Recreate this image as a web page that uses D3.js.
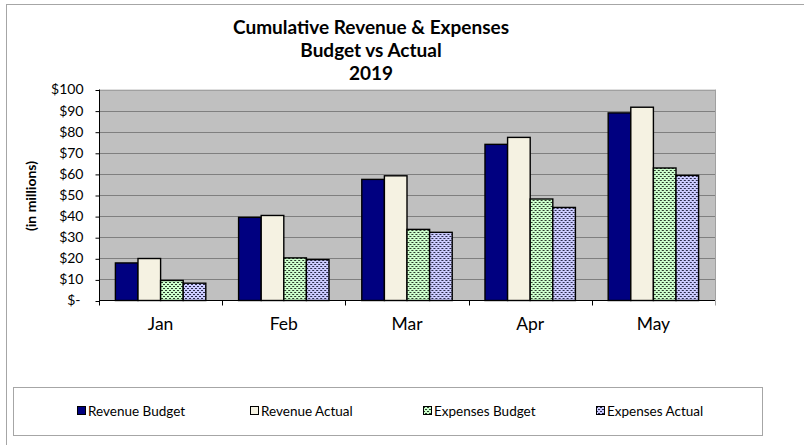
<!DOCTYPE html>
<html><head><meta charset="utf-8">
<script src="https://cdn.jsdelivr.net/npm/d3@7"></script>
<style>
html,body{margin:0;padding:0;background:#fff;}
svg{display:block;font-family:Lato,"Open Sans",sans-serif;}
</style></head>
<body>
<svg id="chart" width="804" height="445"></svg>
<script>
const titleLines = ["Cumulative Revenue & Expenses", "Budget vs Actual", "2019"];
const yAxisTitle = "(in millions)";
const months = ["Jan", "Feb", "Mar", "Apr", "May"];
const seriesNames = ["Revenue Budget", "Revenue Actual", "Expenses Budget", "Expenses Actual"];
const revenueBudget = [17.8, 39.4, 57.4, 74.0, 88.9];
const revenueActual = [19.9, 40.3, 59.1, 77.3, 91.6];
const expensesBudget = [9.5, 20.2, 33.7, 48.1, 62.8];
const expensesActual = [8.2, 19.4, 32.3, 44.1, 59.3];
const yTicks = [0, 10, 20, 30, 40, 50, 60, 70, 80, 90, 100];

const seriesValues = [revenueBudget, revenueActual, expensesBudget, expensesActual];
const fills = ["#000080", "#f5f2e2", "url(#patGreen)", "url(#patBlue)"];

const svg = d3.select("#chart");
const defs = svg.append("defs");
function makePattern(id, bg, fg) {
  const p = defs.append("pattern").attr("id", id).attr("patternUnits", "userSpaceOnUse")
    .attr("width", 4).attr("height", 4);
  p.append("rect").attr("width", 4).attr("height", 4).attr("fill", bg);
  p.append("rect").attr("x", 0).attr("y", 0).attr("width", 2).attr("height", 1).attr("fill", fg);
  p.append("rect").attr("x", 2).attr("y", 2).attr("width", 2).attr("height", 1).attr("fill", fg);
}
makePattern("patGreen", "#ccffcc", "#2a3a2a");
makePattern("patBlue", "#ccccff", "#2a2a4a");

// outer frame
svg.append("rect").attr("x", 6.5).attr("y", 4.5).attr("width", 820).attr("height", 460)
  .attr("fill", "none").attr("stroke", "#a6a6a6").attr("stroke-width", 1);

const plot = {left: 99, right: 715, top: 89.5, bottom: 300.5};

const x0 = d3.scaleBand().domain(months).range([plot.left, plot.right]).paddingInner(0).paddingOuter(0);
const x1 = d3.scaleBand().domain(seriesNames).range([0, x0.bandwidth()]).paddingInner(0).paddingOuter(0.725);
const y = d3.scaleLinear().domain([0, 100]).range([plot.bottom, plot.top]);

// plot background
svg.append("rect").attr("x", plot.left).attr("y", plot.top)
  .attr("width", plot.right - plot.left).attr("height", plot.bottom - plot.top)
  .attr("fill", "#c0c0c0");

// gridlines
svg.append("g").selectAll("line").data(yTicks.filter(d => d > 0)).join("line")
  .attr("x1", plot.left).attr("x2", plot.right)
  .attr("y1", d => Math.round(y(d)) + 0.5).attr("y2", d => Math.round(y(d)) + 0.5)
  .attr("stroke", d => d === 100 ? "#a0a0a0" : "#7f7f7f").attr("stroke-width", 1);
// right border
svg.append("line").attr("x1", plot.right + 0.5).attr("x2", plot.right + 0.5)
  .attr("y1", plot.top).attr("y2", plot.bottom).attr("stroke", "#a0a0a0");

// bars
const groups = svg.append("g").selectAll("g").data(months).join("g")
  .attr("transform", d => `translate(${x0(d)},0)`);
groups.selectAll("rect").data((m, i) => seriesNames.map((s, j) => ({s, j, v: seriesValues[j][i]})))
  .join("rect")
  .attr("x", d => x1(d.s))
  .attr("y", d => y(d.v))
  .attr("width", x1.bandwidth())
  .attr("height", d => y(0) - y(d.v))
  .attr("fill", d => fills[d.j])
  .attr("stroke", "#000").attr("stroke-width", 1.4);

// y axis
const yAxis = d3.axisLeft(y).tickValues(yTicks).tickSize(4).tickPadding(12)
  .tickFormat(d => d === 0 ? "$-" : "$" + d);
const gy = svg.append("g").attr("transform", `translate(${plot.left + 0.5},0)`).call(yAxis);
gy.select(".domain").attr("stroke", "#000").attr("d", `M0,${plot.top}V${plot.bottom}`);
gy.selectAll(".tick line").attr("stroke", "#000").attr("transform", "translate(0,0.5)");
gy.selectAll(".tick text").attr("font-family", "Lato, sans-serif").attr("font-size", 14).attr("fill", "#000");
gy.selectAll(".tick").filter(d => d === 0).select("text").attr("dx", -3);

// x axis
const gx = svg.append("g").attr("transform", `translate(0,${plot.bottom})`)
  .call(d3.axisBottom(x0).tickSize(0).tickPadding(17));
gx.select(".domain").attr("stroke", "#000").attr("d", `M${plot.left},0H${plot.right}`);
gx.selectAll(".tick text").attr("font-family", "Lato, sans-serif").attr("font-size", 17.5).attr("fill", "#000");
svg.append("g").selectAll("line").data(months.concat(["end"])).join("line")
  .attr("x1", (d, i) => Math.round(plot.left + i * x0.step()) + 0.5)
  .attr("x2", (d, i) => Math.round(plot.left + i * x0.step()) + 0.5)
  .attr("y1", plot.bottom).attr("y2", plot.bottom + 5)
  .attr("stroke", (d, i) => i === months.length ? "#a0a0a0" : "#000");

// title
svg.append("g").selectAll("text").data(titleLines).join("text")
  .attr("x", 371).attr("y", (d, i) => 34 + i * 23)
  .attr("text-anchor", "middle").attr("font-weight", "bold").attr("font-size", 19)
  .attr("fill", "#000").text(d => d);

// y axis title
svg.append("text").attr("transform", "translate(36,196) rotate(-90)")
  .attr("text-anchor", "middle").attr("font-weight", "bold").attr("font-size", 14)
  .attr("fill", "#000").text(yAxisTitle);

// legend
svg.append("rect").attr("x", 13.5).attr("y", 387.5).attr("width", 749).attr("height", 48)
  .attr("fill", "#fff").attr("stroke", "#a6a6a6");
const legendX = d3.scalePoint().domain(seriesNames).range([77, 596]);
const lg = svg.append("g").selectAll("g").data(seriesNames).join("g")
  .attr("transform", d => `translate(${legendX(d)},411)`);
lg.append("rect").attr("x", 0.5).attr("y", -4.5).attr("width", 8).attr("height", 8)
  .attr("fill", (d, i) => fills[i]).attr("stroke", "#000").attr("stroke-width", 1);
lg.append("text").attr("x", 11).attr("y", 0).attr("dy", "0.35em")
  .attr("font-size", 13.5).attr("fill", "#000").text(d => d);
</script>
</body></html>
